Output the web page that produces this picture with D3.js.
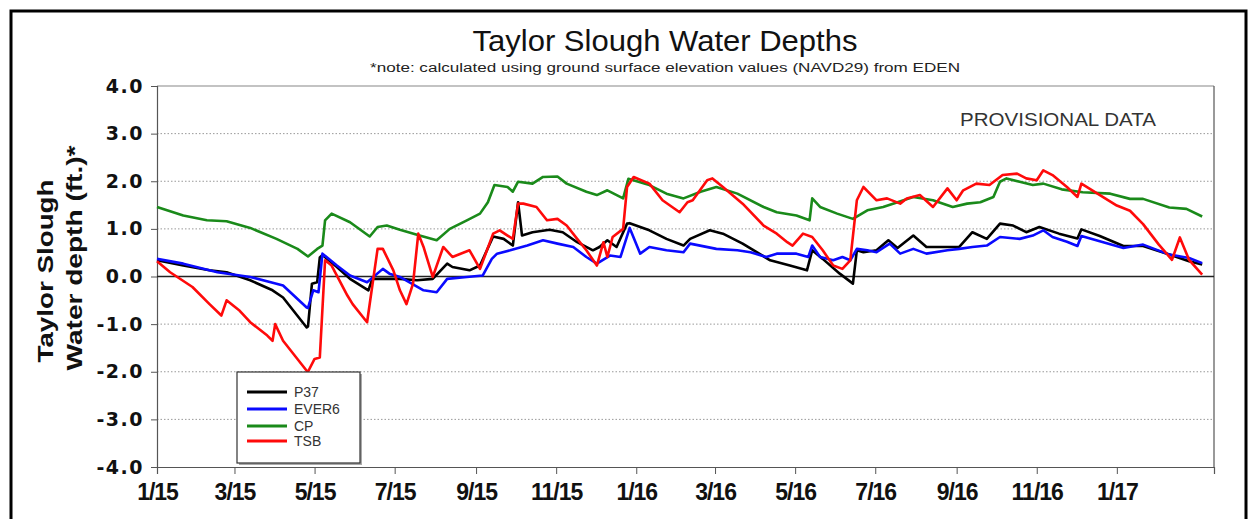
<!DOCTYPE html>
<html><head><meta charset="utf-8">
<script src="https://cdn.jsdelivr.net/npm/d3@7"></script>
<style>body{margin:0;background:#fff}svg{display:block}</style>
</head><body><svg id="c" width="1250" height="519"></svg>
<script>
const seriesNames = ["P37", "EVER6", "CP", "TSB"];
const seriesColors = ["#000000", "#0a0aff", "#1a8a1a", "#ff0a0a"];
const yTicks = [-4, -3, -2, -1, 0, 1, 2, 3, 4];
const xTickDates = ["2015-01-01","2015-03-01","2015-05-01","2015-07-01","2015-09-01","2015-11-01",
  "2016-01-01","2016-03-01","2016-05-01","2016-07-01","2016-09-01","2016-11-01","2017-01-01"];

const p37 = [["2015-01-01",0.34],["2015-01-21",0.23],["2015-02-10",0.13],["2015-02-23",0.09],["2015-03-13",-0.08],
["2015-03-30",-0.29],["2015-04-07",-0.44],["2015-04-25",-1.07],["2015-04-26",-1.05],["2015-04-29",-0.15],["2015-05-03",-0.12],
["2015-05-05",0.40],["2015-05-07",0.45],["2015-05-18",0.20],["2015-05-28",-0.05],["2015-06-11",-0.29],["2015-06-14",-0.05],
["2015-07-05",-0.05],["2015-07-18",-0.08],["2015-07-30",-0.05],["2015-08-10",0.27],["2015-08-14",0.20],["2015-08-27",0.13],
["2015-09-04",0.23],["2015-09-14",0.84],["2015-09-22",0.79],["2015-09-29",0.65],["2015-10-03",1.56],["2015-10-06",0.86],
["2015-10-14",0.93],["2015-10-27",0.98],["2015-11-06",0.93],["2015-11-17",0.72],["2015-11-29",0.55],["2015-12-04",0.62],
["2015-12-10",0.76],["2015-12-17",0.62],["2015-12-25",1.11],["2015-12-27",1.12],["2016-01-11",0.97],["2016-01-24",0.79],
["2016-02-06",0.65],["2016-02-11",0.79],["2016-02-26",0.97],["2016-03-07",0.90],["2016-03-22",0.69],["2016-04-12",0.34],
["2016-04-27",0.23],["2016-05-10",0.13],["2016-05-14",0.55],["2016-05-22",0.37],["2016-06-04",0.06],["2016-06-14",-0.15],
["2016-06-17",0.55],["2016-06-22",0.51],["2016-07-02",0.55],["2016-07-11",0.76],["2016-07-18",0.60],["2016-07-30",0.86],
["2016-08-09",0.62],["2016-09-03",0.62],["2016-09-13",0.93],["2016-09-24",0.79],["2016-10-04",1.11],["2016-10-14",1.07],
["2016-10-24",0.93],["2016-11-03",1.04],["2016-11-18",0.90],["2016-12-02",0.80],["2016-12-05",0.99],["2016-12-19",0.85],
["2017-01-06",0.64],["2017-01-21",0.64],["2017-02-10",0.46],["2017-02-25",0.32],["2017-03-07",0.25]];

const ever6 = [["2015-01-01",0.37],["2015-01-21",0.27],["2015-02-16",0.09],["2015-03-13",-0.01],["2015-04-02",-0.15],
["2015-04-07",-0.19],["2015-04-25",-0.65],["2015-04-26",-0.66],["2015-04-30",-0.29],["2015-05-04",-0.33],["2015-05-07",0.48],
["2015-05-18",0.23],["2015-05-28",0.02],["2015-06-10",-0.12],["2015-06-22",0.16],["2015-06-27",0.06],["2015-07-05",-0.01],
["2015-07-23",-0.29],["2015-08-02",-0.33],["2015-08-10",-0.05],["2015-08-25",-0.01],["2015-09-06",0.02],["2015-09-13",0.37],
["2015-09-17",0.48],["2015-09-27",0.55],["2015-10-10",0.65],["2015-10-22",0.76],["2015-11-02",0.69],["2015-11-14",0.62],
["2015-11-24",0.41],["2015-12-02",0.27],["2015-12-12",0.44],["2015-12-20",0.41],["2015-12-27",1.02],["2016-01-04",0.48],
["2016-01-11",0.62],["2016-01-24",0.55],["2016-02-06",0.51],["2016-02-11",0.69],["2016-03-02",0.58],["2016-03-18",0.55],
["2016-03-28",0.51],["2016-04-09",0.41],["2016-04-17",0.48],["2016-05-02",0.48],["2016-05-11",0.41],["2016-05-14",0.65],
["2016-05-20",0.41],["2016-05-30",0.34],["2016-06-06",0.41],["2016-06-12",0.34],["2016-06-17",0.58],["2016-06-25",0.55],
["2016-07-02",0.51],["2016-07-12",0.69],["2016-07-20",0.48],["2016-07-30",0.58],["2016-08-09",0.48],["2016-08-25",0.55],
["2016-09-03",0.58],["2016-09-13",0.62],["2016-09-24",0.65],["2016-10-04",0.83],["2016-10-19",0.79],["2016-10-29",0.86],
["2016-11-06",0.97],["2016-11-13",0.83],["2016-11-24",0.73],["2016-12-02",0.64],["2016-12-05",0.85],["2016-12-19",0.74],
["2017-01-06",0.60],["2017-01-21",0.67],["2017-02-10",0.46],["2017-02-25",0.39],["2017-03-07",0.28]];

const cp = [["2015-01-01",1.46],["2015-01-21",1.28],["2015-02-08",1.18],["2015-02-23",1.16],["2015-03-13",1.02],
["2015-04-02",0.79],["2015-04-18",0.58],["2015-04-26",0.42],["2015-05-03",0.58],["2015-05-07",0.65],["2015-05-09",1.18],
["2015-05-14",1.32],["2015-05-28",1.14],["2015-06-12",0.84],["2015-06-18",1.04],["2015-06-25",1.07],["2015-07-05",0.98],
["2015-07-20",0.86],["2015-08-02",0.76],["2015-08-12",1.00],["2015-08-25",1.18],["2015-09-04",1.32],["2015-09-10",1.56],
["2015-09-15",1.92],["2015-09-25",1.88],["2015-09-29",1.78],["2015-10-03",1.99],["2015-10-14",1.95],["2015-10-22",2.09],
["2015-11-02",2.10],["2015-11-09",1.95],["2015-11-24",1.78],["2015-12-02",1.71],["2015-12-10",1.81],["2015-12-22",1.64],
["2015-12-26",2.05],["2016-01-11",1.92],["2016-01-24",1.74],["2016-02-06",1.64],["2016-02-19",1.78],["2016-03-02",1.88],
["2016-03-18",1.74],["2016-04-07",1.46],["2016-04-17",1.35],["2016-05-02",1.28],["2016-05-12",1.18],["2016-05-14",1.64],
["2016-05-20",1.46],["2016-06-02",1.32],["2016-06-14",1.21],["2016-06-25",1.39],["2016-07-07",1.46],["2016-07-18",1.56],
["2016-07-30",1.67],["2016-08-14",1.60],["2016-08-29",1.46],["2016-09-09",1.53],["2016-09-19",1.56],["2016-09-29",1.67],
["2016-10-04",1.99],["2016-10-09",2.06],["2016-10-19",1.99],["2016-10-29",1.92],["2016-11-06",1.95],["2016-11-20",1.83],
["2016-12-06",1.77],["2016-12-27",1.74],["2017-01-11",1.63],["2017-01-21",1.63],["2017-02-10",1.45],["2017-02-23",1.42],
["2017-03-07",1.26]];

const tsb = [["2015-01-01",0.32],["2015-01-11",0.09],["2015-01-28",-0.22],["2015-02-10",-0.58],["2015-02-19",-0.82],
["2015-02-23",-0.50],["2015-03-05",-0.72],["2015-03-13",-0.96],["2015-03-26",-1.24],["2015-03-30",-1.35],["2015-04-01",-1.00],
["2015-04-07",-1.35],["2015-04-25",-1.98],["2015-04-26",-2.00],["2015-05-01",-1.73],["2015-05-05",-1.70],["2015-05-09",0.34],
["2015-05-14",0.23],["2015-05-26",-0.40],["2015-05-30",-0.58],["2015-06-10",-0.96],["2015-06-18",0.58],["2015-06-22",0.58],
["2015-06-30",0.13],["2015-07-05",-0.29],["2015-07-10",-0.58],["2015-07-15",-0.15],["2015-07-19",0.90],["2015-07-23",0.62],
["2015-07-30",-0.01],["2015-08-07",0.62],["2015-08-14",0.41],["2015-08-27",0.55],["2015-09-04",0.16],["2015-09-14",0.90],
["2015-09-19",0.97],["2015-09-25",0.86],["2015-09-29",0.79],["2015-10-03",1.53],["2015-10-07",1.53],["2015-10-17",1.46],
["2015-10-25",1.18],["2015-11-02",1.21],["2015-11-09",1.07],["2015-11-17",0.79],["2015-11-24",0.55],["2015-12-02",0.23],
["2015-12-07",0.72],["2015-12-10",0.41],["2015-12-14",0.83],["2015-12-22",1.00],["2015-12-25",1.88],["2015-12-30",2.09],
["2016-01-11",1.95],["2016-01-21",1.60],["2016-02-03",1.35],["2016-02-09",1.56],["2016-02-13",1.60],["2016-02-24",2.02],
["2016-02-28",2.06],["2016-03-07",1.88],["2016-03-22",1.53],["2016-04-07",1.07],["2016-04-17",0.90],["2016-04-25",0.72],
["2016-04-29",0.65],["2016-05-07",0.90],["2016-05-14",0.83],["2016-05-22",0.55],["2016-05-30",0.23],["2016-06-06",0.16],
["2016-06-12",0.34],["2016-06-17",1.60],["2016-06-22",1.88],["2016-07-02",1.60],["2016-07-10",1.64],["2016-07-20",1.53],
["2016-07-25",1.64],["2016-08-04",1.71],["2016-08-14",1.46],["2016-08-25",1.85],["2016-09-01",1.60],["2016-09-06",1.81],
["2016-09-16",1.95],["2016-09-26",1.92],["2016-10-06",2.13],["2016-10-17",2.16],["2016-10-24",2.06],["2016-11-01",2.02],
["2016-11-06",2.23],["2016-11-13",2.13],["2016-11-24",1.88],["2016-12-02",1.67],["2016-12-05",1.95],["2017-01-01",1.49],
["2017-01-11",1.38],["2017-01-21",1.10],["2017-02-02",0.67],["2017-02-12",0.35],["2017-02-18",0.82],["2017-02-25",0.35],
["2017-03-07",0.04]];

const seriesData = [p37, ever6, cp, tsb];

const svg = d3.select("#c");
const parse = d3.timeParse("%Y-%m-%d");
const L = 157, R = 1214, T = 86, B = 467;
const x = d3.scaleTime().domain([parse("2015-01-01"), parse("2017-03-16")]).range([L, R]);
const y = d3.scaleLinear().domain([-4, 4]).range([B, T]);

// outer frame
svg.append("rect").attr("x", 11).attr("y", 11).attr("width", 1235).attr("height", 520)
  .attr("fill", "none").attr("stroke", "#000").attr("stroke-width", 3);

// title
svg.append("text").attr("x", 665).attr("y", 51).attr("text-anchor", "middle")
  .attr("font-family", "Liberation Sans, Arial, sans-serif").attr("font-size", 30).attr("fill", "#111")
  .attr("textLength", 385).attr("lengthAdjust", "spacingAndGlyphs").text("Taylor Slough Water Depths");
svg.append("text").attr("x", 665).attr("y", 72).attr("text-anchor", "middle")
  .attr("font-family", "Liberation Sans, Arial, sans-serif").attr("font-size", 12.5).attr("fill", "#222")
  .attr("textLength", 590).attr("lengthAdjust", "spacingAndGlyphs")
  .text("*note: calculated using ground surface elevation values (NAVD29) from EDEN");

// grid
const g = svg.append("g");
yTicks.forEach(v => {
  if (v === -4 || v === 0) return;
  g.append("line").attr("x1", L).attr("x2", R).attr("y1", y(v)).attr("y2", y(v))
    .attr("stroke", v === 4 ? "#888" : "#999").attr("stroke-width", v === 4 ? 1.2 : 1)
    .attr("stroke-dasharray", v === 4 ? null : "1.5,2");
});

// axes
const yAxis = d3.axisLeft(y).tickValues(yTicks).tickSize(6).tickFormat(v => v.toFixed(1));
const ya = svg.append("g").attr("transform", `translate(${L},0)`).call(yAxis);
ya.select(".domain").attr("stroke", "#555").attr("stroke-width", 1.2);
ya.selectAll(".tick line").attr("stroke", "#555");
ya.selectAll(".tick text").attr("font-family", "DejaVu Sans, sans-serif").attr("font-weight", "bold")
  .attr("font-size", 19).attr("letter-spacing", 1.5).attr("fill", "#111").attr("x", -13);

const xAxis = d3.axisBottom(x).tickValues(xTickDates.map(parse)).tickSize(7).tickFormat(d3.timeFormat("%-m/%y"));
const xa = svg.append("g").attr("transform", `translate(0,${B})`).call(xAxis);
xa.select(".domain").attr("stroke", "#555").attr("stroke-width", 1.2);
xa.selectAll(".tick line").attr("stroke", "#555");
xa.selectAll(".tick text").attr("font-family", "Liberation Sans, Arial, sans-serif").attr("font-weight", "bold")
  .attr("font-size", 23).attr("letter-spacing", -1).attr("fill", "#111").attr("dy", null).attr("y", 33);

// right border
svg.append("line").attr("x1", R).attr("x2", R).attr("y1", T).attr("y2", B).attr("stroke", "#555").attr("stroke-width", 1.2);

// zero line
svg.append("line").attr("x1", L).attr("x2", R).attr("y1", y(0)).attr("y2", y(0)).attr("stroke", "#222").attr("stroke-width", 1.5);

// y-axis title
const yt = svg.append("g").attr("font-family", "Liberation Sans, Arial, sans-serif").attr("font-weight", "bold")
  .attr("font-size", 22).attr("fill", "#111").attr("text-anchor", "middle");
yt.append("text").attr("transform", "translate(53,271) rotate(-90)")
  .attr("textLength", 183).attr("lengthAdjust", "spacingAndGlyphs").text("Taylor Slough");
yt.append("text").attr("transform", "translate(82,258) rotate(-90)")
  .attr("textLength", 225).attr("lengthAdjust", "spacingAndGlyphs").text("Water depth (ft.)*");

// provisional
svg.append("text").attr("x", 960).attr("y", 126).attr("font-family", "Liberation Sans, Arial, sans-serif")
  .attr("font-size", 19).attr("fill", "#333").attr("textLength", 196).attr("lengthAdjust", "spacingAndGlyphs")
  .text("PROVISIONAL DATA");

// lines
const line = d3.line().x(d => x(parse(d[0]))).y(d => y(d[1]));
seriesData.forEach((s, i) => {
  svg.append("path").datum(s).attr("d", line).attr("fill", "none")
    .attr("stroke", seriesColors[i]).attr("stroke-width", 2.6).attr("stroke-linejoin", "round");
});

// legend
const lg = svg.append("g");
lg.append("rect").attr("x", 239).attr("y", 374).attr("width", 123).attr("height", 91).attr("fill", "#aaa");
lg.append("rect").attr("x", 237).attr("y", 372).attr("width", 123).attr("height", 91).attr("fill", "#fff")
  .attr("stroke", "#333").attr("stroke-width", 1.2);
const ly = [392, 409, 426, 441];
seriesNames.forEach((n, i) => {
  lg.append("line").attr("x1", 247).attr("x2", 287).attr("y1", ly[i]).attr("y2", ly[i])
    .attr("stroke", seriesColors[i]).attr("stroke-width", 3);
  lg.append("text").attr("x", 294).attr("y", ly[i] + 5).attr("font-family", "Liberation Sans Narrow, Liberation Sans, sans-serif")
    .attr("font-size", 14).attr("fill", "#333").text(n);
});
</script></body></html>
